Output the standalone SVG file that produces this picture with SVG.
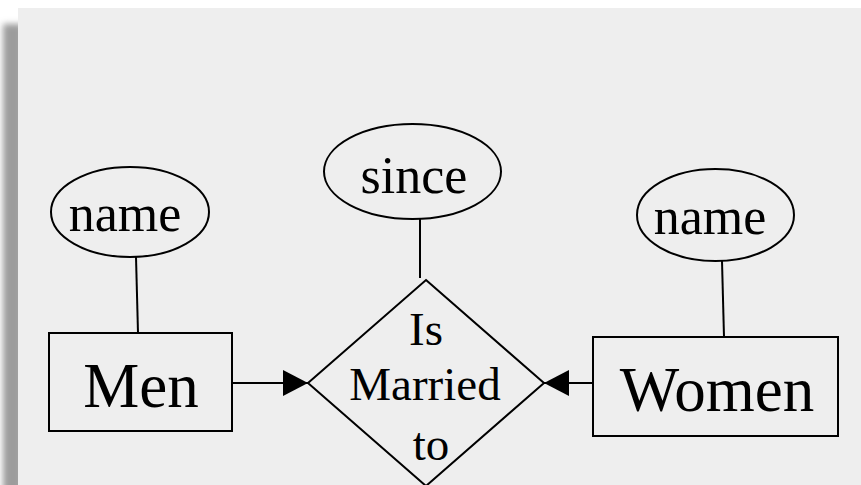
<svg xmlns="http://www.w3.org/2000/svg" width="861" height="485" viewBox="0 0 861 485">
  <defs>
    <filter id="blur" x="-50%" y="-10%" width="200%" height="120%">
      <feGaussianBlur stdDeviation="3"/>
    </filter>
    <marker id="arrow" viewBox="0 0 25 26" refX="25" refY="13" markerWidth="25" markerHeight="26" markerUnits="userSpaceOnUse" orient="auto">
      <path d="M0,0 L25,13 L0,26 Z" fill="#000"/>
    </marker>
    <style>
      .shape { fill: none; stroke: #000; stroke-width: 2; }
      .line { stroke: #000; stroke-width: 2; fill: none; }
      .t { font-family: "Liberation Serif", "Times New Roman", serif; fill: #000; text-anchor: middle; }
      .big { font-size: 63px; }
      .mid { font-size: 52px; }
      .small { font-size: 47px; }
    </style>
  </defs>
  <rect x="0" y="0" width="861" height="485" fill="#ffffff"/>
  <rect x="3" y="24" width="20" height="470" fill="#9c9c9c" filter="url(#blur)"/>
  <rect x="18" y="8" width="843" height="477" fill="#eeeeee"/>

  <g id="connectors">
    <line class="line" x1="136" y1="257" x2="138" y2="333"/>
    <line class="line" x1="722" y1="261" x2="724" y2="337"/>
    <line class="line" x1="420" y1="219" x2="420" y2="278"/>
    <line class="line" x1="232" y1="383" x2="308" y2="383" marker-end="url(#arrow)"/>
    <line class="line" x1="593" y1="383" x2="544" y2="383" marker-end="url(#arrow)"/>
  </g>

  <g id="men-name">
    <ellipse class="shape" cx="130" cy="212" rx="79" ry="45"/>
    <text class="t mid" x="125" y="231">name</text>
  </g>
  <g id="men">
    <rect class="shape" x="49" y="333" width="183" height="98"/>
    <text class="t big" x="141" y="407">Men</text>
  </g>
  <g id="since">
    <ellipse class="shape" cx="412.5" cy="171.5" rx="88.5" ry="47.5"/>
    <text class="t mid" x="414" y="193">since</text>
  </g>
  <g id="is-married-to">
    <polygon class="shape" points="426,280 544,383 426,486 308,383"/>
    <text class="t small" x="426" y="345">Is</text>
    <text class="t small" x="425" y="400">Married</text>
    <text class="t small" x="431" y="460">to</text>
  </g>
  <g id="women-name">
    <ellipse class="shape" cx="715.5" cy="215" rx="78.5" ry="46"/>
    <text class="t mid" x="710" y="234">name</text>
  </g>
  <g id="women">
    <rect class="shape" x="593" y="337" width="245" height="99"/>
    <text class="t big" x="717" y="411">Women</text>
  </g>
</svg>
